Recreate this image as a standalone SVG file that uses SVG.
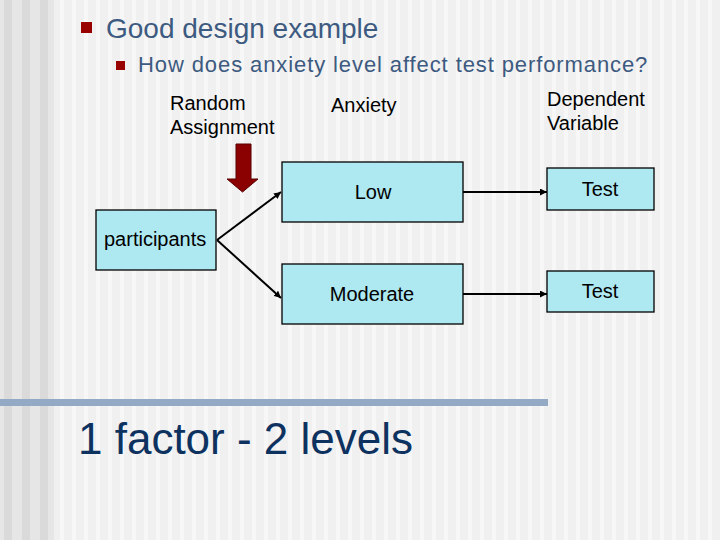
<svg xmlns="http://www.w3.org/2000/svg" width="720" height="540" viewBox="0 0 720 540">
<defs>
<pattern id="stripes" x="0" y="0" width="12" height="540" patternUnits="userSpaceOnUse">
<rect x="0" y="0" width="12" height="540" fill="#f0f0f0"/>
<rect x="0" y="0" width="4" height="540" fill="#f7f7f7"/>
</pattern>
<pattern id="lstripes" x="0" y="0" width="18" height="540" patternUnits="userSpaceOnUse">
<rect x="0" y="0" width="18" height="540" fill="#e6e6e6"/>
<rect x="4" y="0" width="8" height="540" fill="#dadada"/>
</pattern>
<marker id="ah" viewBox="0 0 10 10" refX="10" refY="5" markerWidth="7" markerHeight="7" markerUnits="userSpaceOnUse" orient="auto">
<path d="M0,0 L10,5 L0,10 z" fill="#000"/>
</marker>
</defs>
<style>
.box{fill:#aee8f0;stroke:#000;stroke-width:1.3}
.lbl{font-family:"Liberation Sans",Arial,sans-serif;font-size:20px;fill:#000}
.conn{stroke:#000;stroke-width:2;fill:none}
.bul{fill:#990000}
</style>
<rect x="0" y="0" width="720" height="540" fill="url(#stripes)"/>
<rect x="0" y="0" width="54" height="540" fill="url(#lstripes)"/>
<rect x="0" y="399" width="548" height="7" fill="#94a9c3"/>

<rect class="bul" x="81" y="22" width="11" height="11"/>
<text x="106" y="38" font-family="Liberation Sans,Arial,sans-serif" font-size="28" fill="#3d5a80">Good design example</text>
<rect class="bul" x="116" y="61" width="9" height="9"/>
<text x="138" y="72" font-family="Liberation Sans,Arial,sans-serif" font-size="22" letter-spacing="0.9" fill="#3d5a80">How does anxiety level affect test performance?</text>

<text class="lbl" x="170" y="110">Random</text>
<text class="lbl" x="170" y="134">Assignment</text>
<text class="lbl" x="331" y="112">Anxiety</text>
<text class="lbl" x="547" y="106">Dependent</text>
<text class="lbl" x="547" y="130">Variable</text>

<g id="random-arrow">
<path d="M236,144 L251,144 L251,179 L258,179 L242.5,192 L227,179 L236,179 Z" fill="#8b0000" stroke="#5a0000" stroke-width="1"/>
</g>

<g id="connectors">
<line class="conn" x1="217" y1="240" x2="281" y2="192" marker-end="url(#ah)"/>
<line class="conn" x1="217" y1="240" x2="281" y2="298" marker-end="url(#ah)"/>
<line class="conn" x1="463" y1="192" x2="547" y2="192" marker-end="url(#ah)"/>
<line class="conn" x1="463" y1="294" x2="547" y2="294" marker-end="url(#ah)"/>
</g>

<g id="participants">
<rect class="box" x="96" y="210" width="120" height="60"/>
<text class="lbl" x="104" y="246">participants</text>
</g>
<g id="low">
<rect class="box" x="282" y="162" width="181" height="60"/>
<text class="lbl" x="373" y="199" text-anchor="middle">Low</text>
</g>
<g id="moderate">
<rect class="box" x="282" y="264" width="181" height="60"/>
<text class="lbl" x="372" y="301" text-anchor="middle">Moderate</text>
</g>
<g id="test1">
<rect class="box" x="547" y="168" width="107" height="42"/>
<text class="lbl" x="600" y="196" text-anchor="middle">Test</text>
</g>
<g id="test2">
<rect class="box" x="547" y="271" width="107" height="41"/>
<text class="lbl" x="600" y="298" text-anchor="middle">Test</text>
</g>

<text x="78" y="454" font-family="Liberation Sans,Arial,sans-serif" font-size="44" fill="#0d3260">1 factor - 2 levels</text>
</svg>
